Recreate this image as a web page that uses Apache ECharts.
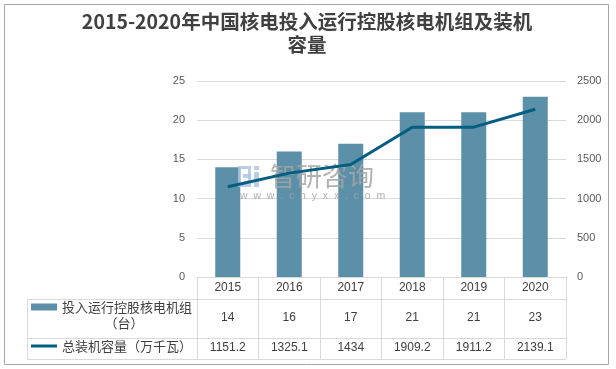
<!DOCTYPE html>
<html>
<head>
<meta charset="utf-8">
<script src="https://cdn.jsdelivr.net/npm/echarts@6/dist/echarts.min.js"></script>
<style>html,body{margin:0;padding:0;background:#fff}#c{width:616px;height:369px}</style>
</head>
<body>
<div id="c"></div>
<script>
var titleText = '2015-2020年中国核电投入运行控股核电机组及装机\n容量';
var years = ['2015', '2016', '2017', '2018', '2019', '2020'];
var unitsName = '投入运行控股核电机组（台）';
var unitsLine1 = '投入运行控股核电机组';
var unitsLine2 = '（台）';
var capName = '总装机容量（万千瓦）';
var units = [14, 16, 17, 21, 21, 23];
var capacity = [1151.2, 1325.1, 1434, 1909.2, 1911.2, 2139.1];
var leftTicks = {min: 0, max: 25, interval: 5};
var rightTicks = {min: 0, max: 2500, interval: 500};

var barColor = '#5B90A8';
var lineColor = '#015E80';
var gridColor = '#D9D9D9';
var numFont = '"Liberation Sans", Arial, sans-serif';
var cjkFont = '"Noto Sans CJK SC", sans-serif';

var G = {left: 197, right: 566, top: 81, bottom: 277};
var tableLeft = 27, row1 = 299, row2 = 338, row3 = 359;

var chart = echarts.init(document.getElementById('c'), null, {renderer: 'canvas'});

function valueAxis(vals, margin) {
  return {
    type: 'category', data: years, gridIndex: 0, position: 'bottom', offset: 0,
    axisLine: {show: false}, axisTick: {show: false}, splitLine: {show: false},
    axisLabel: {show: true, interval: 0, margin: margin, color: '#404040',
      fontSize: 12, fontFamily: numFont,
      formatter: function (v, idx) { return String(vals[idx]); }}
  };
}

var wmFill = 'rgba(175,198,228,0.85)';
var wmText = 'rgba(165,165,165,0.85)';

var option = {
  animation: false,
  backgroundColor: '#ffffff',
  title: {
    text: titleText,
    left: 307, top: 10, textAlign: 'center', padding: 0,
    textStyle: {fontSize: 19.5, fontWeight: 'bold', color: '#404040', fontFamily: cjkFont, lineHeight: 23}
  },
  legend: [
    {
      data: [{name: unitsName, icon: 'rect'}],
      left: 31, top: 300.5, padding: 0, itemWidth: 26, itemHeight: 7, selectedMode: false,
      formatter: function () { return unitsLine1; },
      textStyle: {color: '#404040', fontFamily: cjkFont, fontSize: 13}
    },
    {
      data: [{name: capName, icon: 'rect', itemStyle: {color: lineColor}}],
      left: 31, top: 339.5, padding: 0, itemWidth: 26, itemHeight: 3, selectedMode: false,
      textStyle: {color: '#404040', fontFamily: cjkFont, fontSize: 13}
    }
  ],
  grid: {left: G.left, right: 616 - G.right, top: G.top, bottom: 369 - G.bottom, containLabel: false},
  xAxis: [
    {
      type: 'category', data: years, gridIndex: 0, position: 'bottom', offset: 0,
      axisLine: {show: true, lineStyle: {color: gridColor, width: 1}},
      axisTick: {show: true, interval: 0, length: row3 - G.bottom, inside: false, lineStyle: {color: gridColor, width: 1}},
      axisLabel: {interval: 0, margin: 5, color: '#404040', fontSize: 12, fontFamily: numFont}
    },
    valueAxis(units, 35),
    valueAxis(capacity, 65)
  ],
  yAxis: [
    {
      type: 'value', min: leftTicks.min, max: leftTicks.max, interval: leftTicks.interval,
      axisLine: {show: false}, axisTick: {show: false},
      splitLine: {show: true, lineStyle: {color: gridColor, width: 1}},
      axisLabel: {margin: 12, color: '#595959', fontSize: 11, fontFamily: numFont,
        formatter: function (v) { return String(v); }}
    },
    {
      type: 'value', min: rightTicks.min, max: rightTicks.max, interval: rightTicks.interval, position: 'right',
      axisLine: {show: false}, axisTick: {show: false}, splitLine: {show: false},
      axisLabel: {margin: 11, color: '#595959', fontSize: 11, fontFamily: numFont,
        formatter: function (v) { return String(v); }}
    }
  ],
  graphic: [
    {type: 'rect', shape: {x: 4.5, y: 4.5, width: 604, height: 360}, style: {fill: 'none', stroke: '#A6A6A6', lineWidth: 1}, z: -1},
    {type: 'line', shape: {x1: tableLeft, y1: row1 + 0.5, x2: G.right, y2: row1 + 0.5}, style: {stroke: gridColor, lineWidth: 1}},
    {type: 'line', shape: {x1: tableLeft, y1: row2 + 0.5, x2: G.right, y2: row2 + 0.5}, style: {stroke: gridColor, lineWidth: 1}},
    {type: 'line', shape: {x1: tableLeft, y1: row3 + 0.5, x2: G.right, y2: row3 + 0.5}, style: {stroke: gridColor, lineWidth: 1}},
    {type: 'line', shape: {x1: tableLeft + 0.5, y1: row1, x2: tableLeft + 0.5, y2: row3}, style: {stroke: gridColor, lineWidth: 1}},
    {type: 'text', x: 124, y: 323, style: {text: unitsLine2, align: 'center', verticalAlign: 'middle', fontSize: 13, fontFamily: cjkFont, fill: '#404040'}},
    {type: 'rect', z: 5, shape: {x: 239.5, y: 167.5, width: 10, height: 18}, style: {fill: 'none', stroke: wmFill, lineWidth: 3}},
    {type: 'rect', z: 5, shape: {x: 243, y: 174, width: 8, height: 4}, style: {fill: wmFill}},
    {type: 'rect', z: 5, shape: {x: 254, y: 172, width: 5, height: 15}, style: {fill: wmFill}},
    {type: 'rect', z: 5, shape: {x: 254, y: 166, width: 5, height: 4}, style: {fill: wmFill}},
    {type: 'text', z: 5, x: 270, y: 163, style: {text: '智研咨询', fontSize: 26, fontFamily: cjkFont, fill: wmText}},
    {type: 'text', z: 5, x: 240, y: 191, style: {text: 'w  w  w  .  c  h  y  x  x  .  c  o  m', fontSize: 10.5, fontFamily: numFont, fill: wmText}}
  ],
  series: [
    {
      name: unitsName, type: 'bar', data: units, xAxisIndex: 0, yAxisIndex: 0,
      barWidth: 25, itemStyle: {color: barColor}, z: 2
    },
    {
      name: capName, type: 'line', data: capacity, xAxisIndex: 0, yAxisIndex: 1,
      showSymbol: false, symbol: 'none', lineStyle: {color: lineColor, width: 3}, itemStyle: {color: lineColor}, z: 8
    }
  ]
};
chart.setOption(option);
</script>
</body>
</html>
